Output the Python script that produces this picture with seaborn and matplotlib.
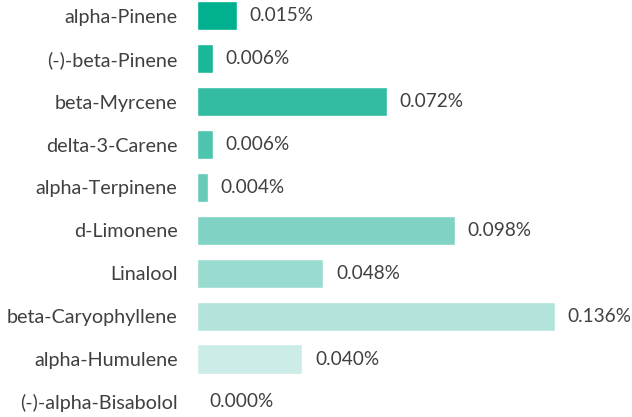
import matplotlib
matplotlib.use("Agg")
import matplotlib.pyplot as plt
import seaborn as sns
import pandas as pd

terpenes = ["alpha-Pinene", "(-)-beta-Pinene", "beta-Myrcene", "delta-3-Carene",
            "alpha-Terpinene", "d-Limonene", "Linalool", "beta-Caryophyllene",
            "alpha-Humulene", "(-)-alpha-Bisabolol"]
percent = [0.015, 0.006, 0.072, 0.006, 0.004, 0.098, 0.048, 0.136, 0.040, 0.000]
bar_colors = ["#00b08e", "#1ab798", "#33bca1", "#4dc4ad", "#66cbb8",
              "#80d3c4", "#99dccf", "#b3e4db", "#ccede7", "#e6f6f3"]

df = pd.DataFrame({"terpene": terpenes, "percent": percent})

sns.set_style("white")
plt.rcParams['font.family'] = ['Lato', 'DejaVu Sans']

fig = plt.figure(figsize=(6.32, 4.17), dpi=100)
ax = fig.add_axes([197 / 632, -6.4 / 417, 430 / 632, 429 / 417])

sns.barplot(data=df, x="percent", y="terpene", hue="terpene", palette=bar_colors,
            legend=False, width=0.68, ax=ax, saturation=1)

for cont in ax.containers:
    ax.bar_label(cont, labels=[f"{v:.3f}%" for v in cont.datavalues],
                 padding=9, fontsize=13.7, color="#404040")

ax.set_xlim(0, 430 / 2635)
ax.set_ylim(9.5, -0.5)
ax.set_xlabel("")
ax.set_ylabel("")
ax.set_xticks([])
ax.tick_params(axis="y", length=0, pad=14, labelsize=14.2, labelcolor="#404040")
sns.despine(ax=ax, left=True, bottom=True)

plt.savefig("out.png", dpi=100)
plt.close()
